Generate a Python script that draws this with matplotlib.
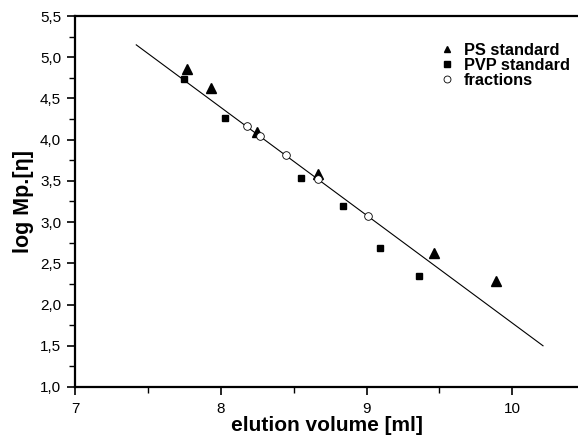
import numpy as np
from matplotlib import pyplot as plt
from matplotlib.ticker import MultipleLocator, FuncFormatter

plt.rcParams['font.family'] = ['Liberation Sans', 'DejaVu Sans']

# PS standards (triangles)
ps_x = [7.77, 7.93, 8.25, 8.67, 9.46, 9.89]
ps_y = [4.86, 4.63, 4.09, 3.58, 2.63, 2.29]

# PVP standards (squares)
pvp_x = [7.75, 8.03, 8.55, 8.84, 9.09, 9.36]
pvp_y = [4.73, 4.26, 3.54, 3.20, 2.69, 2.35]

# fractions (open circles)
frac_x = [8.18, 8.27, 8.45, 8.67, 9.01]
frac_y = [4.16, 4.04, 3.81, 3.52, 3.07]

# calibration line end points
line_x = [7.42, 10.21]
line_y = [5.15, 1.50]


def comma(v, pos):
    return "{0:.1f}".format(v).replace(".", ",")


def main():
    fig = plt.figure(figsize=(5.78, 4.36), dpi=100)
    ax = fig.add_axes([0.1298, 0.1124, 0.8702, 0.8509])

    ax.plot(line_x, line_y, color="black", lw=0.8)
    ax.plot(ps_x, ps_y, "^", color="black", ms=6.5, label="PS standard")
    ax.plot(pvp_x, pvp_y, "s", color="black", ms=5, label="PVP standard")
    ax.plot(frac_x, frac_y, "o", mfc="white", mec="black", mew=0.6, ms=5.5,
            label="fractions")

    ax.set_xlim(7, 10.45)
    ax.set_ylim(1.0, 5.5)
    ax.xaxis.set_major_locator(MultipleLocator(1))
    ax.xaxis.set_minor_locator(MultipleLocator(0.5))
    ax.yaxis.set_major_locator(MultipleLocator(0.5))
    ax.yaxis.set_minor_locator(MultipleLocator(0.25))
    ax.yaxis.set_major_formatter(FuncFormatter(comma))

    ax.spines["right"].set_visible(False)
    for s in ["left", "bottom", "top"]:
        ax.spines[s].set_linewidth(1.6)
    ax.tick_params(which="major", direction="out", length=6, width=1.2,
                   labelsize=11)
    ax.tick_params(which="minor", direction="out", length=4, width=1.0)
    ax.tick_params(axis="x", which="major", pad=5)
    ax.tick_params(axis="y", which="major", pad=4)

    ax.set_xlabel("elution volume [ml]", fontsize=15, fontweight="bold",
                  labelpad=0)
    ax.set_ylabel("log Mp.[\u03b7]", fontsize=15.5, fontweight="bold",
                  labelpad=4)

    leg = ax.legend(loc="upper right", bbox_to_anchor=(1.0, 0.95),
                    frameon=False, handlelength=0.6, handletextpad=0.7,
                    labelspacing=0.0, borderaxespad=0.1,
                    prop={"weight": "bold", "size": 11.8})
    for h in leg.legend_handles:
        h.set_markersize(5)

    fig.savefig("out.png", dpi=100)


if __name__ == "__main__":
    main()
